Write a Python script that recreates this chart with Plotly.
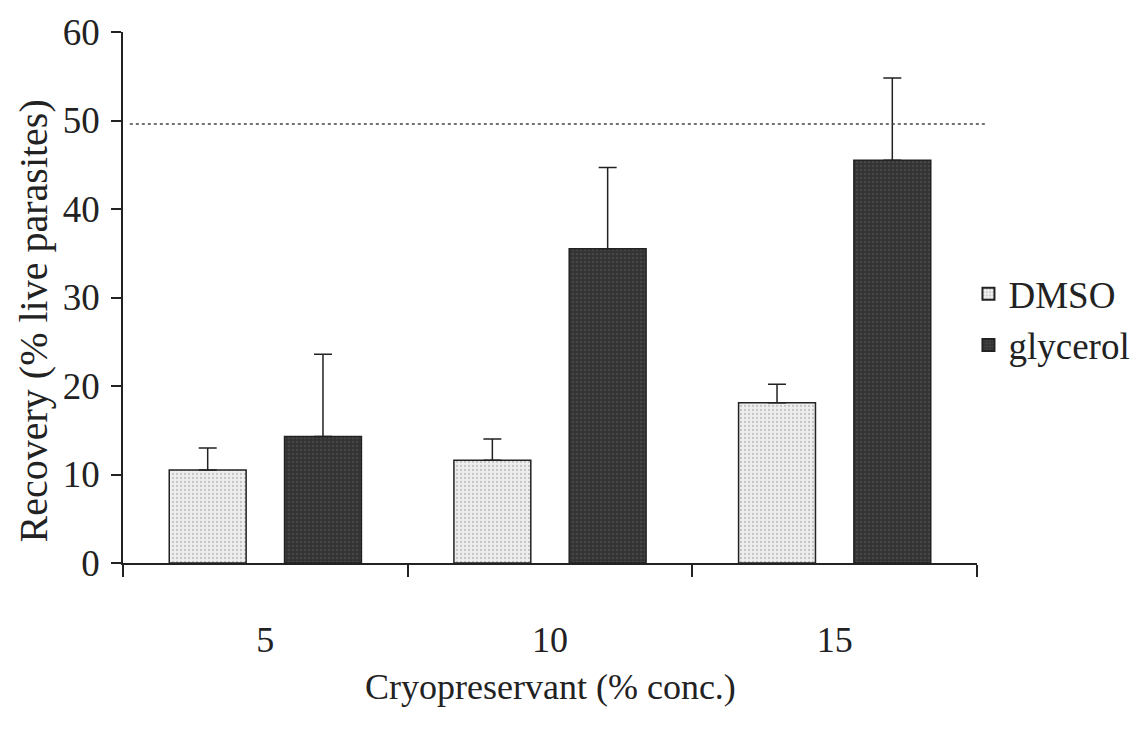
import plotly.graph_objects as go

categories = ["5", "10", "15"]
dmso = [10.5, 11.6, 18.1]
dmso_err = [2.5, 2.4, 2.1]
glycerol = [14.3, 35.5, 45.5]
glycerol_err = [9.3, 9.2, 9.3]
reference_line = 49.6
y_ticks = [0, 10, 20, 30, 40, 50, 60]

FONT = "Liberation Serif, Times New Roman, DejaVu Serif, serif"

fig = go.Figure()
fig.add_trace(go.Bar(
    x=categories, y=dmso, name="DMSO", legendgroup="a",
    marker=dict(color="#e6e6e6", line=dict(color="#222", width=1.5),
                pattern=dict(shape=".", fgcolor="#9a9a9a", bgcolor="#eeeeee", size=4, solidity=0.25)),
    error_y=dict(type="data", symmetric=False, array=dmso_err, arrayminus=[0, 0, 0],
                 color="#222", thickness=1.5, width=9),
))
fig.add_trace(go.Bar(
    x=categories, y=glycerol, name="glycerol", legendgroup="b",
    marker=dict(color="#3a3a3a", line=dict(color="#222", width=1.5),
                pattern=dict(shape=".", fgcolor="#5a5a5a", bgcolor="#333333", size=4, solidity=0.35)),
    error_y=dict(type="data", symmetric=False, array=glycerol_err, arrayminus=[0, 0, 0],
                 color="#222", thickness=1.5, width=9),
))

fig.add_shape(type="line", xref="paper", yref="y", x0=0.008, x1=1.012,
              y0=reference_line, y1=reference_line,
              line=dict(color="#444", width=1.5, dash="dot"))

fig.update_layout(
    width=1147, height=737,
    margin=dict(l=123, r=170, t=32, b=174),
    paper_bgcolor="white", plot_bgcolor="white",
    barmode="group", bargap=0.19, bargroupgap=0.333,
    font=dict(family=FONT, size=34, color="#222"),
    showlegend=True,
    legend=dict(x=0.99, y=0.458, xanchor="left", yanchor="middle",
                font=dict(family=FONT, size=37, color="#222"),
                bgcolor="rgba(0,0,0,0)", itemsizing="constant", tracegroupgap=6,
                traceorder="normal"),
)
fig.update_xaxes(
    showline=True, linecolor="#222", linewidth=1.5,
    ticks="outside", tickson="boundaries", ticklen=12, tickwidth=1.5, tickcolor="#222",
    tickfont=dict(family=FONT, size=36, color="#222"), ticklabelstandoff=44,
    showgrid=False, zeroline=False,
)
fig.update_yaxes(
    range=[0, 60], tickvals=y_ticks, showline=True, linecolor="#222", linewidth=1.5,
    ticks="outside", ticklen=10, tickwidth=1.5, tickcolor="#222",
    tickfont=dict(family=FONT, size=37, color="#222"), ticklabelstandoff=4,
    showgrid=False, zeroline=False,
)
fig.add_annotation(text="Cryopreservant (% conc.)", xref="paper", yref="paper",
                   x=0.5, y=0, yshift=-124, xanchor="center", yanchor="middle",
                   showarrow=False, font=dict(family=FONT, size=36, color="#222"))
fig.add_annotation(text="Recovery (% live parasites)", xref="paper", yref="paper",
                   x=0, xshift=-90, y=0.455, xanchor="center", yanchor="middle", textangle=-90,
                   showarrow=False, font=dict(family=FONT, size=40, color="#222"))

fig.write_html("out.html")
